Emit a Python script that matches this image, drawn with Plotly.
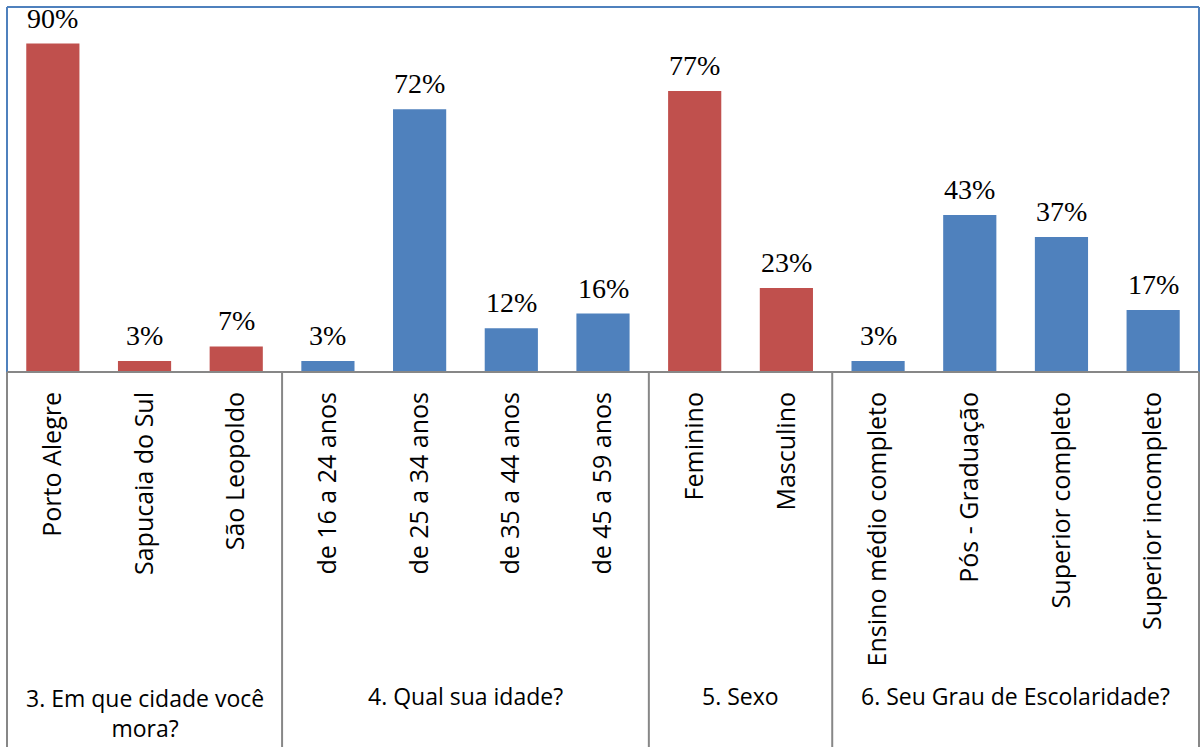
import plotly.graph_objects as go

categories = ["Porto Alegre", "Sapucaia do Sul", "São Leopoldo",
              "de 16 a 24 anos", "de 25 a 34 anos", "de 35 a 44 anos", "de 45 a 59 anos",
              "Feminino", "Masculino",
              "Ensino médio completo", "Pós - Graduação", "Superior completo", "Superior incompleto"]
values = [90, 3, 7, 3, 72, 12, 16, 77, 23, 3, 43, 37, 17]
value_labels = ["90%", "3%", "7%", "3%", "72%", "12%", "16%", "77%", "23%", "3%", "43%", "37%", "17%"]
group_names = ["3. Em que cidade você<br>mora?", "4. Qual sua idade?", "5. Sexo", "6. Seu Grau de Escolaridade?"]
group_sizes = [3, 4, 2, 4]
group_colors = ["#C0504D", "#4F81BD", "#C0504D", "#4F81BD"]

bar_colors = []
for c, n in zip(group_colors, group_sizes):
    bar_colors += [c] * n

xs = list(range(len(categories)))

fig = go.Figure()
fig.add_trace(go.Bar(x=xs, y=values, marker=dict(color=bar_colors, line=dict(width=0)),
                     hoverinfo="skip"))

SANS = "Open Sans"
annotations = []
for x, v, t in zip(xs, values, value_labels):
    annotations.append(dict(x=x, y=v, xref="x", yref="y", text=t, showarrow=False,
                            yanchor="bottom", yshift=8,
                            font=dict(family="Liberation Serif", size=28, color="#000000")))

shapes = []
grey = "#878787"
blue = "#4F81BD"
# plot-area border (top, left, right)
shapes.append(dict(type="line", xref="paper", yref="paper", x0=0, x1=1, y0=1, y1=1, line=dict(color=blue, width=2)))
shapes.append(dict(type="line", xref="paper", yref="paper", x0=0, x1=0, y0=0, y1=1, line=dict(color=blue, width=2)))
shapes.append(dict(type="line", xref="paper", yref="paper", x0=1, x1=1, y0=0, y1=1, line=dict(color=blue, width=2)))
# category table lines
bottom = -1.05
shapes.append(dict(type="line", xref="paper", yref="paper", x0=0, x1=0, y0=bottom, y1=0, line=dict(color=grey, width=2)))
shapes.append(dict(type="line", xref="paper", yref="paper", x0=1, x1=1, y0=bottom, y1=0, line=dict(color=grey, width=2)))
start = 0
for i, n in enumerate(group_sizes):
    end = start + n
    if end < len(categories):
        shapes.append(dict(type="line", xref="x", yref="paper", x0=end - 0.5, x1=end - 0.5,
                           y0=bottom, y1=0, line=dict(color=grey, width=2)))
    center = (start + end - 1) / 2
    two = "<br>" in group_names[i]
    annotations.append(dict(x=center, xref="x", yref="paper", y=-0.888 if not two else -0.935,
                            yanchor="middle", text=group_names[i], showarrow=False,
                            font=dict(family=SANS, size=23, color="#000000")))
    start = end
shapes.append(dict(type="line", xref="paper", yref="paper", x0=0, x1=1, y0=0, y1=0, line=dict(color=grey, width=2)))

fig.update_layout(
    width=1203, height=747,
    margin=dict(l=7, r=4, t=7, b=375),
    paper_bgcolor="white", plot_bgcolor="white",
    bargap=0.42,
    showlegend=False,
    shapes=shapes,
    annotations=annotations,
    xaxis=dict(range=[-0.5, len(categories) - 0.5], tickmode="array", tickvals=xs, ticktext=categories,
               tickangle=-90, showgrid=False, zeroline=False, showline=False, ticks="",
               ticklabelstandoff=14,
               tickfont=dict(family=SANS, size=25, color="#000000")),
    yaxis=dict(range=[0, 100], showgrid=False, zeroline=False, showline=False,
               showticklabels=False, ticks=""),
)
fig.write_html("out.html")
